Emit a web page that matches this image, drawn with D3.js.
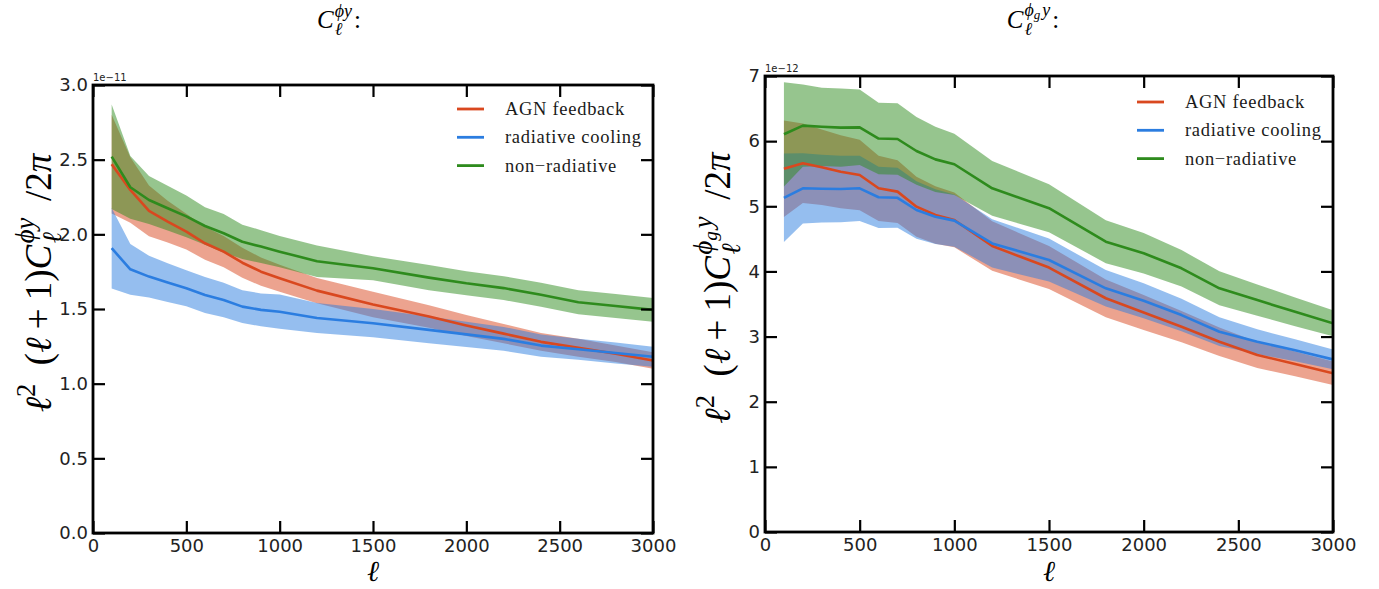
<!DOCTYPE html>
<html>
<head>
<meta charset="utf-8">
<script src="https://cdn.jsdelivr.net/npm/d3@7"></script>
<style>
  html, body { margin: 0; padding: 0; background: #fff; }
  svg { display: block; }
</style>
</head>
<body>
<svg id="fig" width="1379" height="589"></svg>
<script>
// Multipole bins shared by both spectra
const ell = [100, 200, 300, 400, 500, 600, 700, 800, 900, 1000, 1200, 1500, 1800, 2000, 2200, 2400, 2600, 2800, 3000];
const xTicks = [0, 500, 1000, 1500, 2000, 2500, 3000];

// phi-y cross spectrum, units of 1e-11
const phiyAGN       = [2.47, 2.297, 2.157, 2.085, 2.018, 1.94, 1.884, 1.81, 1.75, 1.706, 1.623, 1.53, 1.45, 1.39, 1.335, 1.28, 1.24, 1.2, 1.155];
const phiyAGNErr    = [0.33, 0.22, 0.17, 0.14, 0.12, 0.11, 0.105, 0.1, 0.095, 0.09, 0.085, 0.085, 0.075, 0.07, 0.065, 0.06, 0.06, 0.055, 0.055];
const phiyRad       = [1.907, 1.766, 1.717, 1.677, 1.639, 1.594, 1.56, 1.516, 1.494, 1.482, 1.44, 1.405, 1.36, 1.33, 1.3, 1.255, 1.23, 1.205, 1.18];
const phiyRadErr    = [0.27, 0.17, 0.14, 0.13, 0.12, 0.12, 0.115, 0.11, 0.11, 0.115, 0.1, 0.095, 0.09, 0.085, 0.08, 0.075, 0.07, 0.07, 0.067];
const phiyNonRad    = [2.52, 2.315, 2.23, 2.175, 2.12, 2.056, 2.007, 1.95, 1.918, 1.884, 1.82, 1.773, 1.71, 1.672, 1.64, 1.595, 1.545, 1.52, 1.494];
const phiyNonRadErr = [0.35, 0.21, 0.16, 0.15, 0.14, 0.125, 0.13, 0.115, 0.11, 0.105, 0.105, 0.08, 0.085, 0.08, 0.08, 0.08, 0.08, 0.08, 0.08];
const phiyTicks = [0, 0.5, 1.0, 1.5, 2.0, 2.5, 3.0];

// phi_g-y cross spectrum, units of 1e-12
const phigyAGN       = [5.577, 5.66, 5.6, 5.53, 5.48, 5.276, 5.225, 4.994, 4.866, 4.79, 4.39, 4.06, 3.588, 3.37, 3.152, 2.921, 2.717, 2.58, 2.436];
const phigyAGNErr    = [0.74, 0.61, 0.58, 0.56, 0.54, 0.5, 0.48, 0.46, 0.44, 0.42, 0.38, 0.33, 0.29, 0.27, 0.24, 0.22, 0.2, 0.19, 0.18];
const phigyRad       = [5.13, 5.276, 5.27, 5.266, 5.276, 5.138, 5.13, 4.943, 4.84, 4.78, 4.43, 4.175, 3.741, 3.55, 3.33, 3.075, 2.921, 2.79, 2.65];
const phigyRadErr    = [0.68, 0.54, 0.52, 0.51, 0.5, 0.47, 0.46, 0.44, 0.42, 0.4, 0.37, 0.33, 0.28, 0.27, 0.25, 0.22, 0.19, 0.17, 0.15];
const phigyNonRad    = [6.105, 6.238, 6.22, 6.207, 6.212, 6.04, 6.033, 5.849, 5.72, 5.645, 5.276, 4.97, 4.457, 4.28, 4.048, 3.741, 3.56, 3.38, 3.204];
const phigyNonRadErr = [0.8, 0.63, 0.6, 0.6, 0.58, 0.55, 0.55, 0.52, 0.5, 0.47, 0.42, 0.37, 0.33, 0.31, 0.28, 0.26, 0.24, 0.22, 0.2];
const phigyTicks = [0, 1, 2, 3, 4, 5, 6, 7];

const seriesNames = ["AGN feedback", "radiative cooling", "non\u2212radiative"];

// styling
const COLORS = ["#d9481f", "#2b7de0", "#2e8b1d"];
const SERIF = "'Liberation Serif', 'DejaVu Serif', serif";
const SANS = "'DejaVu Sans', sans-serif";

const svg = d3.select("#fig");

// Lays out a row of math pieces (with stacked sub/superscripts) starting at x=0, baseline 0.
function mathRow(parent, pieces, size) {
  function put(seq, x0) {
    let x = x0;
    for (const p of seq) {
      x += (p.pre || 0) * size;
      if (p.stack) {
        let m = x;
        for (const s of p.stack) m = Math.max(m, put(s, x));
        x = m + (p.gap || 0) * size;
        continue;
      }
      const t = parent.append("text")
        .attr("x", x)
        .attr("y", (p.sh || 0) * size)
        .attr("font-family", SERIF)
        .attr("font-style", p.i ? "italic" : "normal")
        .attr("font-size", size * (p.s || 1))
        .attr("fill", "#000")
        .text(p.t);
      x += t.node().getComputedTextLength() + (p.gap || 0) * size;
    }
    return x;
  }
  return put(pieces, 0);
}

function drawPanel(cfg) {
  const x = d3.scaleLinear().domain([0, 3000]).range([cfg.left, cfg.right]);
  const y = d3.scaleLinear().domain([0, cfg.yMax]).range([cfg.bottom, cfg.top]);
  const g = svg.append("g");

  const clipId = "clip" + cfg.id;
  g.append("clipPath").attr("id", clipId).append("rect")
    .attr("x", cfg.left).attr("y", cfg.top)
    .attr("width", cfg.right - cfg.left).attr("height", cfg.bottom - cfg.top);

  const plot = g.append("g").attr("clip-path", `url(#${clipId})`);

  const area = d3.area()
    .x(d => x(d.l)).y0(d => y(d.v - d.e)).y1(d => y(d.v + d.e));
  const line = d3.line().x(d => x(d.l)).y(d => y(d.v));

  const rows = cfg.series.map(s => ell.map((l, i) => ({ l, v: s.v[i], e: s.e[i] })));

  rows.forEach((r, k) => {
    plot.append("path").attr("d", area(r))
      .attr("fill", COLORS[k]).attr("fill-opacity", 0.5).attr("stroke", "none");
  });
  rows.forEach((r, k) => {
    plot.append("path").attr("d", line(r))
      .attr("fill", "none").attr("stroke", COLORS[k]).attr("stroke-width", 2.6)
      .attr("stroke-linejoin", "round");
  });

  // axes with inward ticks on all four sides
  const tickLen = 12;
  const styleAxis = sel => {
    sel.select(".domain").remove();
    sel.selectAll(".tick line").attr("stroke", "#000").attr("stroke-width", 2.2);
    sel.selectAll(".tick text").attr("font-family", SANS).attr("font-size", 18).attr("fill", "#222");
  };
  g.append("g").attr("transform", `translate(0,${cfg.bottom})`)
    .call(d3.axisBottom(x).tickValues(xTicks).tickSize(-tickLen).tickPadding(6).tickFormat(d3.format("d")))
    .call(styleAxis);
  g.append("g").attr("transform", `translate(0,${cfg.top})`)
    .call(d3.axisTop(x).tickValues(xTicks).tickSize(-tickLen).tickFormat(""))
    .call(styleAxis);
  g.append("g").attr("transform", `translate(${cfg.left},0)`)
    .call(d3.axisLeft(y).tickValues(cfg.yTicks).tickSize(-tickLen).tickPadding(5).tickFormat(cfg.fmt))
    .call(styleAxis);
  g.append("g").attr("transform", `translate(${cfg.right},0)`)
    .call(d3.axisRight(y).tickValues(cfg.yTicks).tickSize(-tickLen).tickFormat(""))
    .call(styleAxis);

  g.append("rect")
    .attr("x", cfg.left).attr("y", cfg.top)
    .attr("width", cfg.right - cfg.left).attr("height", cfg.bottom - cfg.top)
    .attr("fill", "none").attr("stroke", "#000").attr("stroke-width", 2.8);

  // scale multiplier
  g.append("text").attr("x", cfg.left).attr("y", cfg.top - 4)
    .attr("font-family", SANS).attr("font-size", 10).attr("fill", "#222")
    .text(cfg.exponent);

  // legend
  seriesNames.forEach((name, k) => {
    const ly = cfg.top + cfg.legTop + k * 28.3;
    const lx = cfg.right - 196;
    g.append("line").attr("x1", lx).attr("x2", lx + 27).attr("y1", ly).attr("y2", ly)
      .attr("stroke", COLORS[k]).attr("stroke-width", 2.8);
    g.append("text").attr("x", lx + 48).attr("y", ly).attr("dy", "0.32em")
      .attr("font-family", SERIF).attr("font-size", 18.5).attr("letter-spacing", 0.7)
      .attr("fill", "#1a1a1a").text(name);
  });

  // x label
  g.append("text").attr("x", (cfg.left + cfg.right) / 2).attr("y", 581)
    .attr("text-anchor", "middle").attr("font-family", SERIF).attr("font-style", "italic")
    .attr("font-size", 29).text("\u2113");

  // y label
  const yl = g.append("g");
  const inner = yl.append("g");
  const w = mathRow(inner, cfg.ylabel, 37);
  yl.attr("transform", `translate(${cfg.ylabelX},${cfg.ylabelY}) rotate(-90)`);
  inner.attr("transform", `translate(${-w / 2},0)`);

  // title
  const tg = g.append("g");
  const ti = tg.append("g");
  const tw = mathRow(ti, cfg.title, 25);
  tg.attr("transform", `translate(${cfg.titleX - tw / 2},28)`);
}

const supPhiY = [{ t: "\u03d5", i: 1, s: 0.72, sh: -0.45 }, { t: "y", i: 1, s: 0.72, sh: -0.45 }];
const supPhiGY = [{ t: "\u03d5", i: 1, s: 0.72, sh: -0.5 }, { t: "g", i: 1, s: 0.52, sh: -0.36 }, { t: "y", i: 1, s: 0.72, sh: -0.5, pre: 0.08 }];
const subEll = [{ t: "\u2113", i: 1, s: 0.72, sh: 0.28 }];

function yLabelPieces(sup) {
  return [
    { t: "\u2113", i: 1 },
    { t: "2", s: 0.72, sh: -0.42, gap: 0.5 },
    { t: "(" },
    { t: "\u2113", i: 1, gap: 0.22 },
    { t: "+", gap: 0.22 },
    { t: "1)" },
    { t: "C", i: 1, gap: 0.04 },
    { stack: [subEll, sup], gap: 0.45 },
    { t: "/2" },
    { t: "\u03c0", i: 1 }
  ];
}

drawPanel({
  id: "L", left: 93, right: 653, top: 85, bottom: 533, yMax: 3.0,
  yTicks: phiyTicks, fmt: d3.format(".1f"), exponent: "1e\u221211", legTop: 24,
  series: [
    { v: phiyAGN, e: phiyAGNErr },
    { v: phiyRad, e: phiyRadErr },
    { v: phiyNonRad, e: phiyNonRadErr }
  ],
  ylabel: yLabelPieces(supPhiY), ylabelX: 51, ylabelY: 283,
  title: [{ t: "C", i: 1, gap: 0.04 }, { stack: [subEll, supPhiY] }, { t: ":", pre: 0.08 }],
  titleX: 339
});

drawPanel({
  id: "R", left: 765, right: 1333, top: 76, bottom: 532, yMax: 7,
  yTicks: phigyTicks, fmt: d3.format("d"), exponent: "1e\u221212", legTop: 26,
  series: [
    { v: phigyAGN, e: phigyAGNErr },
    { v: phigyRad, e: phigyRadErr },
    { v: phigyNonRad, e: phigyNonRadErr }
  ],
  ylabel: yLabelPieces(supPhiGY), ylabelX: 730, ylabelY: 288,
  title: [{ t: "C", i: 1, gap: 0.04 }, { stack: [subEll, supPhiGY] }, { t: ":", pre: 0.08 }],
  titleX: 1033
});
</script>
</body>
</html>
